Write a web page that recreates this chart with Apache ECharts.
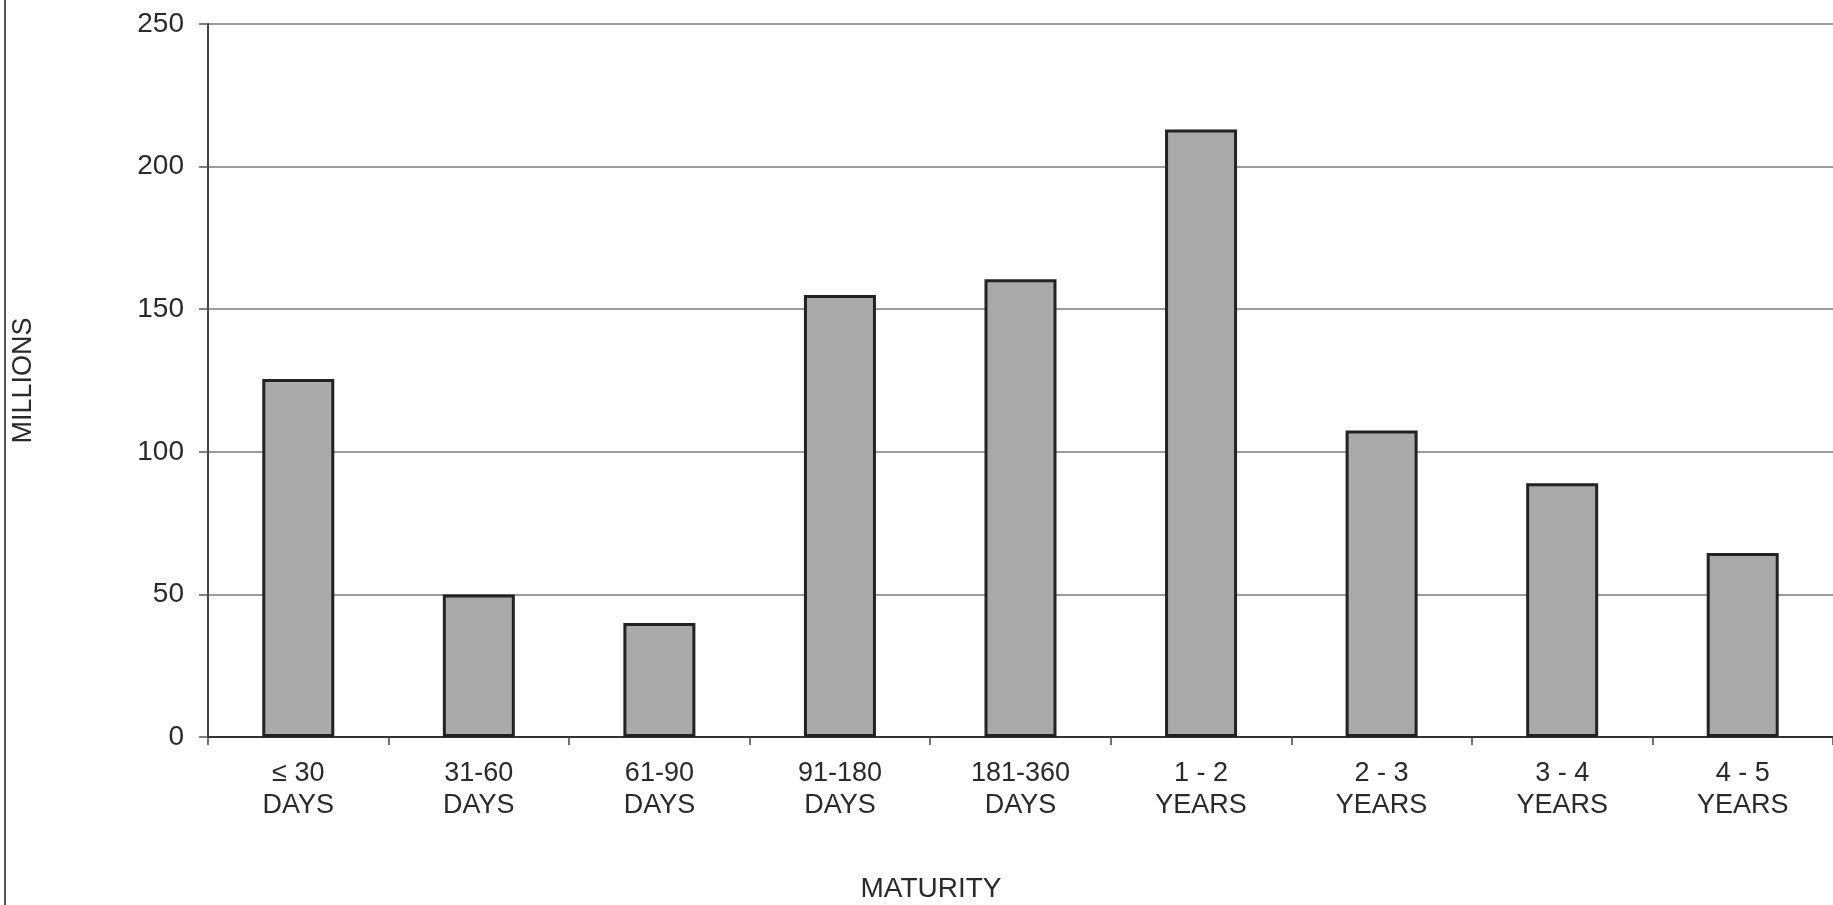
<!DOCTYPE html>
<html>
<head>
<meta charset="utf-8">
<script src="https://cdn.jsdelivr.net/npm/echarts@6/dist/echarts.min.js"></script>
<style>
html,body{margin:0;padding:0;background:#fff;}
#chart{width:1833px;height:905px;}
</style>
</head>
<body>
<div id="chart"></div>
<script>
const categories = ['≤ 30\nDAYS','31-60\nDAYS','61-90\nDAYS','91-180\nDAYS','181-360\nDAYS','1 - 2\nYEARS','2 - 3\nYEARS','3 - 4\nYEARS','4 - 5\nYEARS'];
const values = [125.5, 50, 40, 155, 160.5, 213, 107.5, 89, 64.5];
const yTicks = [0, 50, 100, 150, 200, 250];

const FONT = '"Liberation Sans", Arial, sans-serif';
const chart = echarts.init(document.getElementById('chart'), null, {renderer:'canvas'});
chart.setOption({
  backgroundColor: '#ffffff',
  animation: false,
  grid: {left: 208, top: 24, width: 1627, bottom: 168, containLabel: false},
  xAxis: {
    type: 'category',
    data: categories,
    boundaryGap: true,
    axisLine: {show: true, lineStyle: {color: '#333', width: 2}},
    axisTick: {show: true, alignWithLabel: false, length: 8, lineStyle: {color: '#444', width: 1.5}},
    axisLabel: {margin: 21, color: '#2a2a2a', fontSize: 27, lineHeight: 32, fontFamily: FONT, interval: 0},
    splitLine: {show: false}
  },
  yAxis: {
    type: 'value',
    min: yTicks[0],
    max: yTicks[yTicks.length - 1],
    interval: 50,
    name: 'MILLIONS',
    nameLocation: 'middle',
    nameGap: 171,
    nameRotate: 90,
    nameTextStyle: {color: '#2a2a2a', fontSize: 27, fontFamily: FONT},
    axisLine: {show: true, lineStyle: {color: '#444', width: 2}},
    axisTick: {show: true, inside: false, length: 9, lineStyle: {color: '#555', width: 1.5}},
    axisLabel: {margin: 24, color: '#2a2a2a', fontSize: 28, fontFamily: FONT},
    splitLine: {show: true, lineStyle: {color: '#7a7a7a', width: 1.5}}
  },
  series: [{
    type: 'bar',
    data: values,
    barWidth: 72,
    itemStyle: {color: '#a9a9a9', borderColor: '#222', borderWidth: 3},
    silent: true
  }],
  graphic: [
    {type: 'line', shape: {x1: 5, y1: 0, x2: 5, y2: 905}, style: {stroke: '#555', lineWidth: 2}},
    {type: 'text', x: 931, y: 875, style: {text: 'MATURITY', fontSize: 28, fontFamily: FONT, fill: '#2a2a2a', textAlign: 'center', textVerticalAlign: 'top'}}
  ]
});
</script>
</body>
</html>
